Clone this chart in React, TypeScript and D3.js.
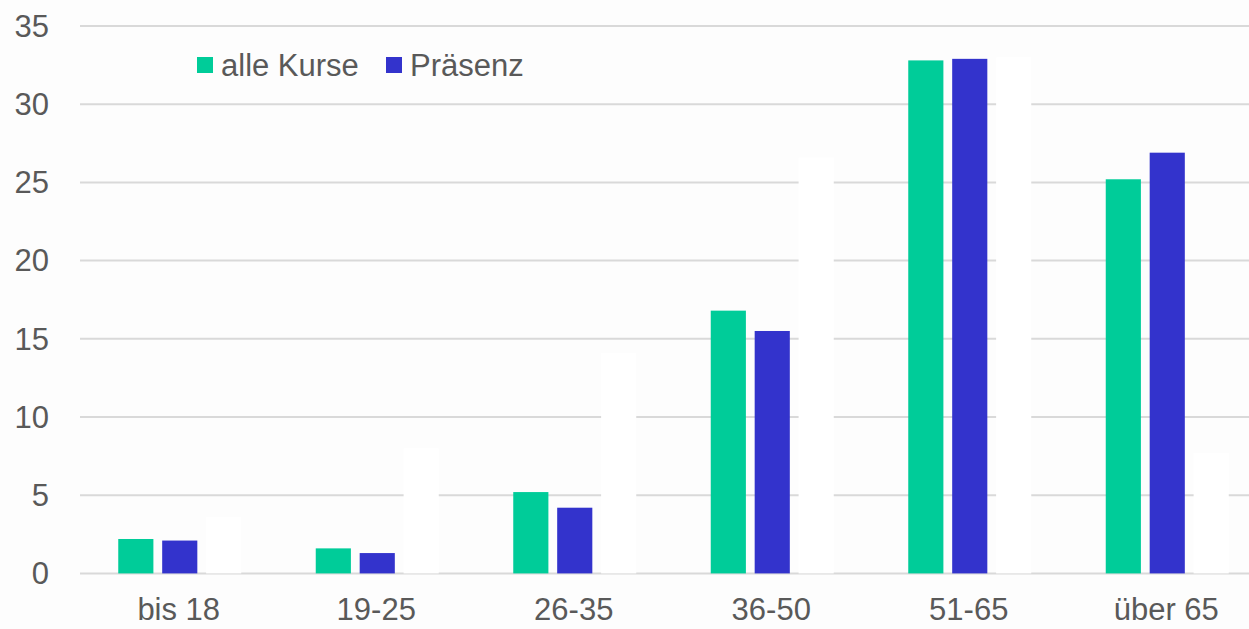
import React from 'react';
import * as d3 from 'd3';

const categories = ['bis 18', '19-25', '26-35', '36-50', '51-65', 'über 65'];
const alleKurse = [2.2, 1.6, 5.2, 16.8, 32.8, 25.2];
const praesenz = [2.1, 1.3, 4.2, 15.5, 32.9, 26.9];
// third series drawn almost white, not in legend
const online = [3.6, 8.0, 14.1, 26.6, 33.0, 7.7];
const yTicks = [0, 5, 10, 15, 20, 25, 30, 35];

const seriesNames = ['alle Kurse', 'Präsenz', 'Online'];
const seriesColors = ['#00cc99', '#3333cc', '#ffffff'];
const seriesValues = [alleKurse, praesenz, online];

const W = 1249;
const H = 629;
const FONT = '"Liberation Sans", Arial, sans-serif';

const App = () => {
  const x = d3.scaleBand<string>().domain(categories).range([81, 81 + 6 * 197.5]);
  const inner = d3
    .scaleBand<number>()
    .domain([0, 1, 2])
    .range([37.25, 160.25])
    .paddingInner(0.2)
    .paddingOuter(0);
  const y = d3.scaleLinear().domain([0, 35]).range([573.4, 26]);

  return (
    <svg width={W} height={H} style={{ position: 'absolute', left: 0, top: 0, background: '#fdfdfd' }}>
      {/* gridlines */}
      {yTicks.map((t) => (
        <line key={t} x1={80} x2={W} y1={y(t)} y2={y(t)} stroke="#d9d9d9" strokeWidth={2} />
      ))}
      {/* y tick labels */}
      {yTicks.map((t) => (
        <text
          key={'l' + t}
          x={49}
          y={y(t)}
          dy="0.35em"
          textAnchor="end"
          fontFamily={FONT}
          fontSize={31}
          fill="#595959"
        >
          {t}
        </text>
      ))}
      {/* bars */}
      {seriesValues.map((vals, si) =>
        vals.map((v, ci) => (
          <rect
            key={si + '-' + ci}
            x={(x(categories[ci]) as number) + (inner(si) as number)}
            y={y(v)}
            width={inner.bandwidth()}
            height={y(0) - y(v)}
            fill={seriesColors[si]}
          />
        ))
      )}
      {/* x labels */}
      {categories.map((c) => (
        <text
          key={c}
          x={(x(c) as number) + x.bandwidth() / 2 - 1}
          y={609}
          dy="0.35em"
          textAnchor="middle"
          fontFamily={FONT}
          fontSize={31}
          fill="#595959"
        >
          {c}
        </text>
      ))}
      {/* legend */}
      {[0, 1].map((i) => {
        const lx = i === 0 ? 197 : 386;
        return (
          <g key={'lg' + i}>
            <rect x={lx} y={57} width={16} height={16} fill={seriesColors[i]} />
            <text
              x={lx + 24}
              y={65}
              dy="0.35em"
              fontFamily={FONT}
              fontSize={31}
              fill="#595959"
            >
              {seriesNames[i]}
            </text>
          </g>
        );
      })}
    </svg>
  );
};

export default App;
